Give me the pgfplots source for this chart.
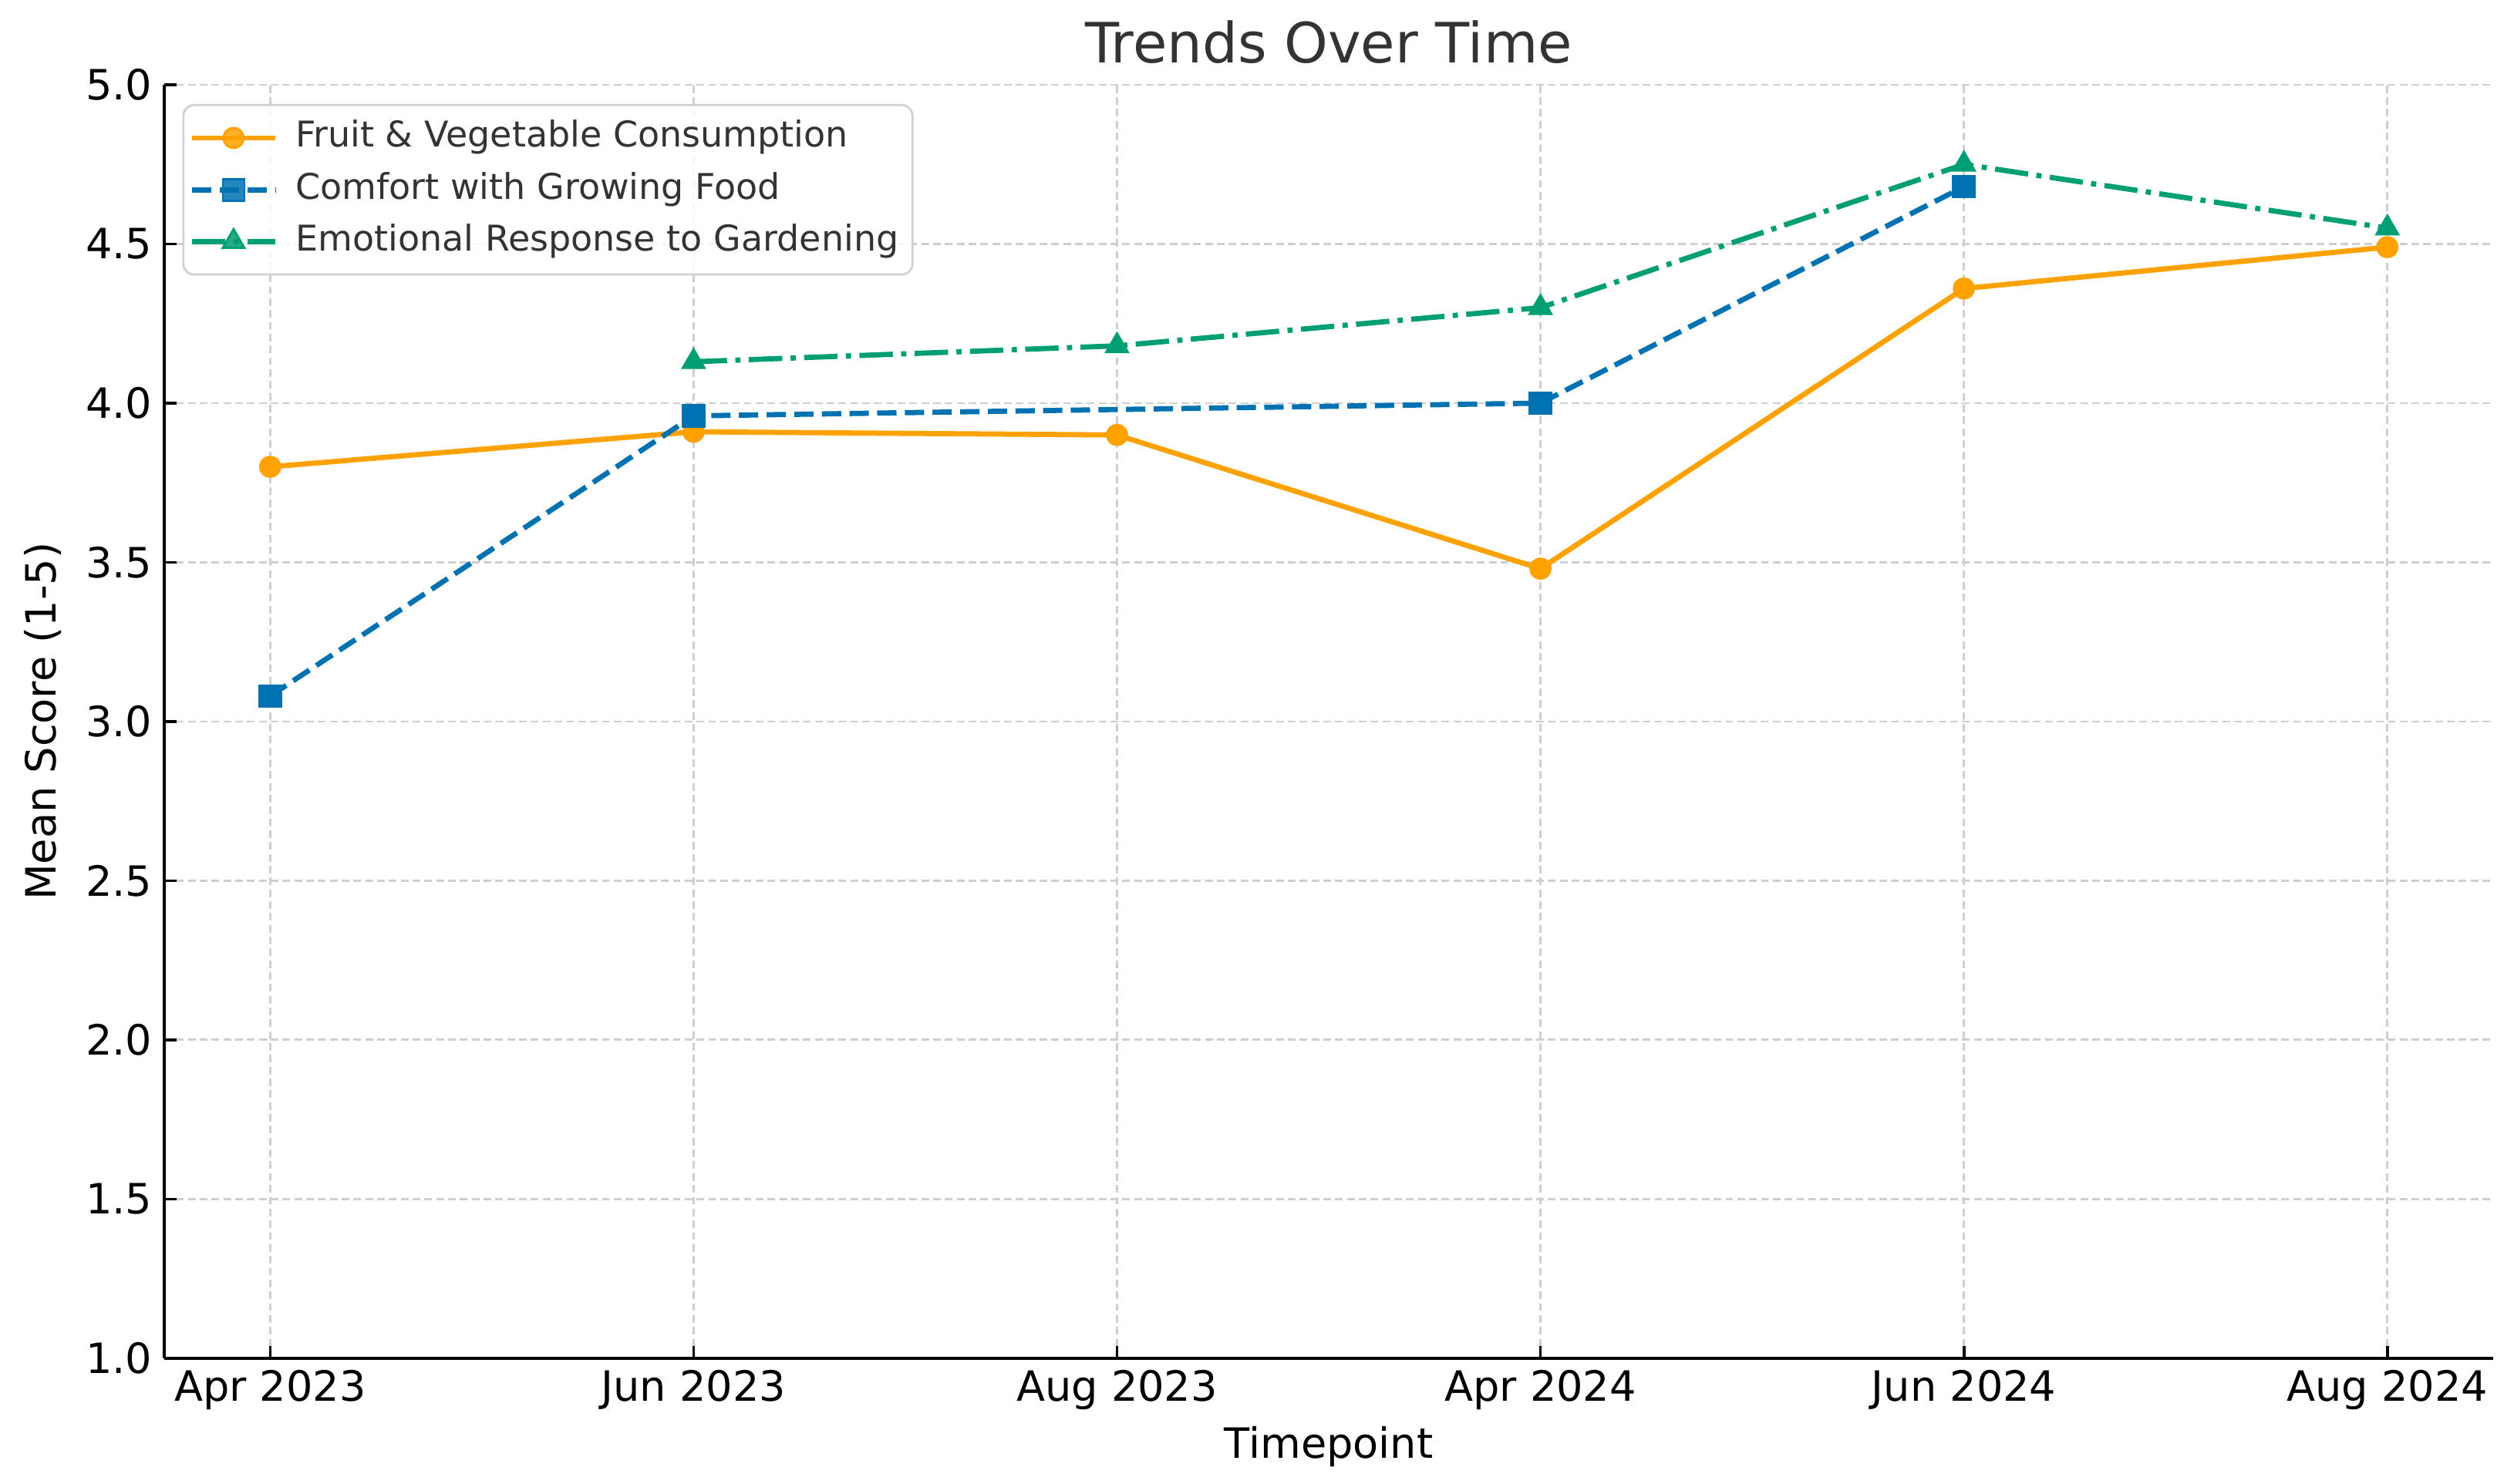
\documentclass[border=0pt]{standalone}
\usepackage{fontspec}
\setmainfont{DejaVu Sans}
\usepackage{pgfplots}
\pgfplotsset{compat=1.18}
\definecolor{cOrange}{HTML}{FFA200}
\definecolor{cBlue}{HTML}{0072B2}
\definecolor{cGreen}{HTML}{009E73}
\definecolor{cGrid}{HTML}{CFCFCF}
\definecolor{cText}{HTML}{333333}
\begin{document}
\begin{tikzpicture}
\useasboundingbox (-1.660cm,-1.270cm) rectangle (23.74cm,13.727cm);
\begin{axis}[
  scale only axis, width=23.53cm, height=12.87cm,
  xmin=-0.25, xmax=5.25, ymin=1, ymax=5,
  xtick={0,1,2,3,4,5},
  xticklabels={Apr 2023,Jun 2023,Aug 2023,Apr 2024,Jun 2024,Aug 2024},
  ytick={1,1.5,2,2.5,3,3.5,4,4.5,5},
  yticklabel style={/pgf/number format/.cd, fixed, fixed zerofill, precision=1},
  /pgf/number format/assume math mode=true,
  tick label style={font=\fontsize{12}{14}\selectfont, black},
  axis x line*=bottom, axis y line*=left,
  axis line style={line width=0.8pt, black},
  tick align=inside, major tick length=3.5pt,
  tick style={line width=0.8pt, black},
  grid=major,
  major grid style={cGrid, line width=0.6pt, dash pattern=on 2.2pt off 1.2pt},
  title={Trends Over Time},
  title style={at={(axis description cs:0.5,1.0011)}, anchor=base, yshift=0pt, font=\fontsize{16}{19}\selectfont, text=cText},
  xlabel={Timepoint},
  xlabel style={at={(axis description cs:0.5,-0.0787)}, anchor=base, font=\fontsize{12}{14}\selectfont, text=black},
  ylabel={Mean Score (1-5)},
  ylabel style={at={(axis description cs:-0.052,0.5)}, anchor=center, font=\fontsize{12}{14}\selectfont, text=black},
  legend cell align=left,
  legend image code/.code={\draw[mark repeat=2,mark phase=2] plot coordinates {(0cm,0cm) (0.42cm,0cm) (0.84cm,0cm)};},
  legend style={at={(rel axis cs:0,1)}, anchor=north west, xshift=0.183cm, yshift=-0.195cm,
    draw=cGrid, line width=0.6pt, rounded corners=3pt, fill=white, fill opacity=0.85, text opacity=1,
    font=\fontsize{10.2}{12}\selectfont, text=cText, inner xsep=0.06cm, inner ysep=2pt,
    nodes={text height=7.5pt, text depth=2.2pt, inner xsep=0.08cm, inner ysep=2.6pt, anchor=west},
    /tikz/every odd column/.append style={column sep=0.1cm}},
]
\addplot[color=cOrange, line width=1.5pt, mark=*, mark size=2.9pt, mark options={solid, line width=0.6pt}]
  coordinates {(0,3.80) (1,3.91) (2,3.90) (3,3.48) (4,4.36) (5,4.49)};
\addlegendentry{Fruit \& Vegetable Consumption}
\addplot[color=cBlue, line width=1.5pt, dash pattern=on 5.55pt off 2.4pt, mark=square*, mark size=3.1pt, mark options={solid, line width=0.6pt}]
  coordinates {(0,3.08) (1,3.96) (3,4.00) (4,4.68)};
\addlegendentry{Comfort with Growing Food}
\addplot[color=cGreen, line width=1.5pt, dash pattern=on 9.6pt off 2.4pt on 1.5pt off 2.4pt, mark=triangle*, mark size=3.6pt, mark options={solid, line width=0.6pt}]
  coordinates {(1,4.13) (2,4.18) (3,4.30) (4,4.75) (5,4.55)};
\addlegendentry{Emotional Response to Gardening}
\end{axis}
\end{tikzpicture}
\end{document}
